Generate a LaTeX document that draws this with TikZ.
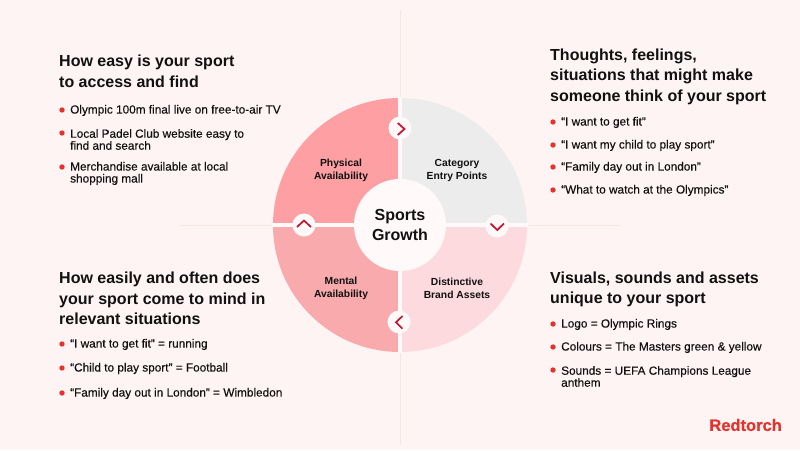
\documentclass[tikz,border=0pt]{standalone}
\usepackage{fontspec}
\setmainfont{Liberation Sans}
\newfontfamily\medfont[FakeBold=0.25]{Liberation Sans}
\newfontfamily\logofont[BoldFeatures={FakeBold=0.7}]{Liberation Sans}
\definecolor{bgpink}{HTML}{FDF4F3}
\definecolor{guideline}{HTML}{F8E4E3}
\definecolor{physical}{HTML}{FE9FA3}
\definecolor{category}{HTML}{ECECEC}
\definecolor{mental}{HTML}{F9AAAD}
\definecolor{distinctive}{HTML}{FDDADD}
\definecolor{hubwhite}{HTML}{FFFAF9}
\definecolor{torchred}{HTML}{E5322D}
\definecolor{chevred}{HTML}{C4132F}
\definecolor{inkblack}{HTML}{111111}
\tikzset{
  heading/.style={anchor=west,align=left,inner sep=0pt,text=inkblack,
    font=\fontsize{16}{20.5}\selectfont\bfseries},
  item/.style={anchor=west,align=left,inner sep=0pt,text=inkblack,
    font=\fontsize{11.8}{12}\selectfont\medfont},
  dot/.style={circle,fill=torchred,inner sep=0pt,minimum size=5.4pt},
  sector/.style={align=center,inner sep=0pt,text=inkblack,
    font=\fontsize{10.3}{13}\selectfont\bfseries},
  badge/.style={circle,fill=hubwhite,inner sep=0pt,minimum size=23pt},
  chevron/.style={draw=chevred,line width=1.7pt,line join=miter}
}
\begin{document}
\begin{tikzpicture}[x=1pt,y=-1pt]
  \useasboundingbox (0,0) rectangle (800,450);
  \fill[bgpink] (0,0) rectangle (800,450);
  % faint guides
  \coordinate (gtop) at (400,10);
  \coordinate (gbot) at (400,445);
  \coordinate (gleft) at (180,225);
  \coordinate (gright) at (620,225);
  \draw[guideline,line width=0.8pt] (gtop) -- (gbot);
  \draw[guideline,line width=0.8pt] (gleft) -- (gright);
  % quadrants
  \coordinate (hub) at (400,225);
  \fill[physical] (hub) -- (273,225) arc[start angle=180,end angle=90,radius=127pt] -- cycle;
  \fill[category] (hub) -- (400,98) arc[start angle=90,end angle=0,radius=127pt] -- cycle;
  \fill[distinctive] (hub) -- (527,225) arc[start angle=0,end angle=-90,radius=127pt] -- cycle;
  \fill[mental] (hub) -- (400,352) arc[start angle=-90,end angle=-180,radius=127pt] -- cycle;
  \draw[hubwhite,line width=3.6pt] (400,97) -- (400,353);
  \draw[hubwhite,line width=3.6pt] (272,225) -- (528,225);
  \node[circle,fill=hubwhite,inner sep=0pt,minimum size=92pt,align=center,text=inkblack,
    font=\fontsize{16}{20.5}\selectfont\bfseries] (growth) at (hub) {Sports\\Growth};
  \node[sector] (phys) at (341,170) {Physical\\Availability};
  \node[sector] (cat) at (457,170) {Category\\Entry Points};
  \node[sector] (ment) at (341,288) {Mental\\Availability};
  \node[sector] (dist) at (457,288) {Distinctive\\Brand Assets};
  % arrows round the wheel
  \node[badge] (bnorth) at (400,128) {};
  \node[badge] (bwest) at (304,225) {};
  \node[badge] (beast) at (497,226) {};
  \node[badge] (bsouth) at (399,322) {};
  \draw[chevron] (397.7,123) -- (404.5,129) -- (397.7,135);
  \draw[chevron] (297,227) -- (304,220.5) -- (311,227);
  \draw[chevron] (490.5,223.5) -- (497.3,230) -- (504,223.5);
  \draw[chevron] (402.5,316) -- (396,322.3) -- (402.5,328.7);
  % top left
  \node[heading] (tlhead) at (59,71.5) {How easy is your sport\\to access and find};
  \node[dot] (tld1) at (62,110) {};
  \node[item] (tlt1) at (70,110.5) {Olympic 100m final live on free-to-air TV};
  \node[dot] (tld2) at (62,133) {};
  \node[item] (tlt2) at (70,139.5) {Local Padel Club website easy to\\find and search};
  \node[dot] (tld3) at (62,167) {};
  \node[item] (tlt3) at (70,173.5) {Merchandise available at local\\shopping mall};
  % top right
  \node[heading] (trhead) at (550,76.5) {Thoughts, feelings,\\situations that might make\\someone think of your sport};
  \node[dot] (trd1) at (553,122) {};
  \node[item] (trt1) at (561,122.5) {“I want to get fit”};
  \node[dot] (trd2) at (553,145) {};
  \node[item] (trt2) at (561,145.5) {“I want my child to play sport”};
  \node[dot] (trd3) at (553,167) {};
  \node[item] (trt3) at (561,167.5) {“Family day out in London”};
  \node[dot] (trd4) at (553,190) {};
  \node[item] (trt4) at (561,190.5) {“What to watch at the Olympics”};
  % bottom left
  \node[heading] (blhead) at (59,298.5) {How easily and often does\\your sport come to mind in\\relevant situations};
  \node[dot] (bld1) at (62,344) {};
  \node[item] (blt1) at (70,344.5) {“I want to get fit” = running};
  \node[dot] (bld2) at (62,368) {};
  \node[item] (blt2) at (70,368.5) {“Child to play sport” = Football};
  \node[dot] (bld3) at (62,393) {};
  \node[item] (blt3) at (70,393.5) {“Family day out in London” = Wimbledon};
  % bottom right
  \node[heading] (brhead) at (550,289.5) {Visuals, sounds and assets\\unique to your sport};
  \node[dot] (brd1) at (553,324) {};
  \node[item] (brt1) at (561,324.5) {Logo = Olympic Rings};
  \node[dot] (brd2) at (553,347) {};
  \node[item] (brt2) at (561,347.5) {Colours = The Masters green \& yellow};
  \node[dot] (brd3) at (553,370) {};
  \node[item] (brt3) at (561,376.5) {Sounds = UEFA Champions League\\anthem};
  \node[anchor=east,inner sep=0pt,text=torchred,font=\fontsize{16.5}{18}\selectfont\logofont\bfseries] (logo) at (782,425) {Redtorch};
\end{tikzpicture}
\end{document}
